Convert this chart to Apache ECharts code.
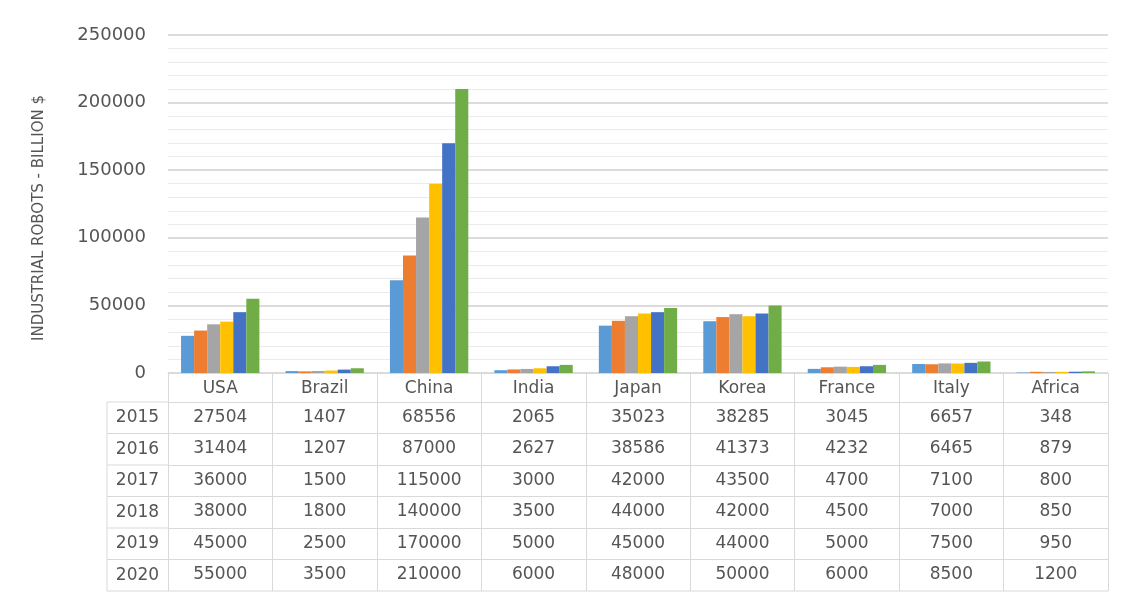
<!DOCTYPE html>
<html>
<head>
<meta charset="utf-8">
<title>Industrial robots</title>
<script src="https://cdn.jsdelivr.net/npm/echarts@6/dist/echarts.min.js"></script>
<style>
  html, body { margin: 0; padding: 0; background: #ffffff; }
  #chart { width: 1134px; height: 592px; }
</style>
</head>
<body>
<div id="chart"></div>
<script>
// Countries along the category axis and the years shown as series / table rows
const countries = ['USA', 'Brazil', 'China', 'India', 'Japan', 'Korea', 'France', 'Italy', 'Africa'];
const years = ['2015', '2016', '2017', '2018', '2019', '2020'];

// Values per year, one entry per country
const v2015 = [27504, 1407, 68556, 2065, 35023, 38285, 3045, 6657, 348];
const v2016 = [31404, 1207, 87000, 2627, 38586, 41373, 4232, 6465, 879];
const v2017 = [36000, 1500, 115000, 3000, 42000, 43500, 4700, 7100, 800];
const v2018 = [38000, 1800, 140000, 3500, 44000, 42000, 4500, 7000, 850];
const v2019 = [45000, 2500, 170000, 5000, 45000, 44000, 5000, 7500, 950];
const v2020 = [55000, 3500, 210000, 6000, 48000, 50000, 6000, 8500, 1200];

// Value axis range
const yMax = 250000;
const yStep = 50000;
const yTitle = 'INDUSTRIAL ROBOTS - BILLION $';

const rows = [v2015, v2016, v2017, v2018, v2019, v2020];
const colors = ['#5B9BD5', '#ED7D31', '#A5A5A5', '#FFC000', '#4472C4', '#70AD47'];

// Layout of the plot and the data table beneath it
const W = 1134, H = 592;
const gridLeft = 168, gridRight = 26, gridTop = 35, gridBottom = 219;
const headerH = 29, rowH = 31.5, yearColW = 61;
const lineColor = '#d9d9d9';
const textColor = '#555555';
const font = 'DejaVu Sans';

const chart = echarts.init(document.getElementById('chart'), null, { renderer: 'canvas' });

// Header axis: country names plus the vertical column borders of the table
const xAxes = [{
  type: 'category',
  data: countries,
  position: 'bottom',
  axisLine: { show: true, lineStyle: { color: lineColor, width: 1 } },
  axisTick: { show: true, interval: 0, length: headerH + rowH * rows.length, lineStyle: { color: lineColor } },
  axisLabel: { interval: 0, margin: 7, fontFamily: font, fontSize: 17, color: textColor }
}];

// One extra axis per table row, showing that year's values
rows.forEach((vals, k) => {
  xAxes.push({
    type: 'category',
    data: countries,
    position: 'bottom',
    offset: headerH + rowH * k,
    axisLine: { show: true, lineStyle: { color: lineColor, width: 1 } },
    axisTick: { show: false },
    axisLabel: {
      interval: 0, margin: 7, fontFamily: font, fontSize: 17, color: textColor,
      formatter: (value, idx) => String(vals[idx])
    }
  });
});

const series = years.map((yr, k) => ({
  name: yr,
  type: 'bar',
  xAxisIndex: 0,
  data: rows[k],
  barGap: 0,
  barCategoryGap: '25%',
  itemStyle: { color: colors[k] },
  silent: true
}));

chart.setOption({
  animation: false,
  backgroundColor: '#ffffff',
  grid: { left: gridLeft, right: gridRight, top: gridTop, bottom: gridBottom, containLabel: false },
  xAxis: xAxes,
  yAxis: {
    type: 'value',
    min: 0,
    max: yMax,
    interval: yStep,
    axisLine: { show: false },
    axisTick: { show: false },
    axisLabel: { margin: 22, fontFamily: font, fontSize: 18, color: textColor, formatter: (v) => String(v) },
    splitLine: { show: true, lineStyle: { color: '#d0d0d0', width: 1.5 } },
    minorTick: { show: false, splitNumber: 5 },
    minorSplitLine: { show: true, lineStyle: { color: '#ebebeb', width: 1 } }
  },
  series: series
});

// Year column at the left of the table, and the value-axis title
const zeroY = chart.convertToPixel({ yAxisIndex: 0 }, 0);
const topY = chart.convertToPixel({ yAxisIndex: 0 }, yMax);
const colRight = gridLeft;
const colLeft = gridLeft - yearColW;
const tableTop = zeroY + headerH;
const tableBottom = tableTop + rowH * rows.length;
const tableRight = W - gridRight;

const graphics = [];
years.forEach((yr, k) => {
  const top = tableTop + rowH * k;
  graphics.push({
    type: 'line', silent: true,
    shape: { x1: colLeft, y1: top, x2: colRight, y2: top },
    style: { stroke: lineColor, lineWidth: 1 }
  });
  graphics.push({
    type: 'text', silent: true,
    x: (colLeft + colRight) / 2, y: top + rowH / 2,
    style: {
      text: yr, fill: textColor, font: '17px "' + font + '"',
      textAlign: 'center', textVerticalAlign: 'middle'
    }
  });
});
graphics.push({
  type: 'line', silent: true,
  shape: { x1: colLeft, y1: tableTop, x2: colLeft, y2: tableBottom },
  style: { stroke: lineColor, lineWidth: 1 }
});
graphics.push({
  type: 'line', silent: true,
  shape: { x1: colLeft, y1: tableBottom, x2: tableRight, y2: tableBottom },
  style: { stroke: lineColor, lineWidth: 1 }
});
graphics.push({
  type: 'text', silent: true,
  x: 39, y: (zeroY + topY) / 2 + 14,
  rotation: Math.PI / 2,
  style: {
    text: yTitle, fill: textColor, font: '15px "' + font + '"',
    textAlign: 'center', textVerticalAlign: 'middle'
  }
});

chart.setOption({ graphic: graphics });
</script>
</body>
</html>
